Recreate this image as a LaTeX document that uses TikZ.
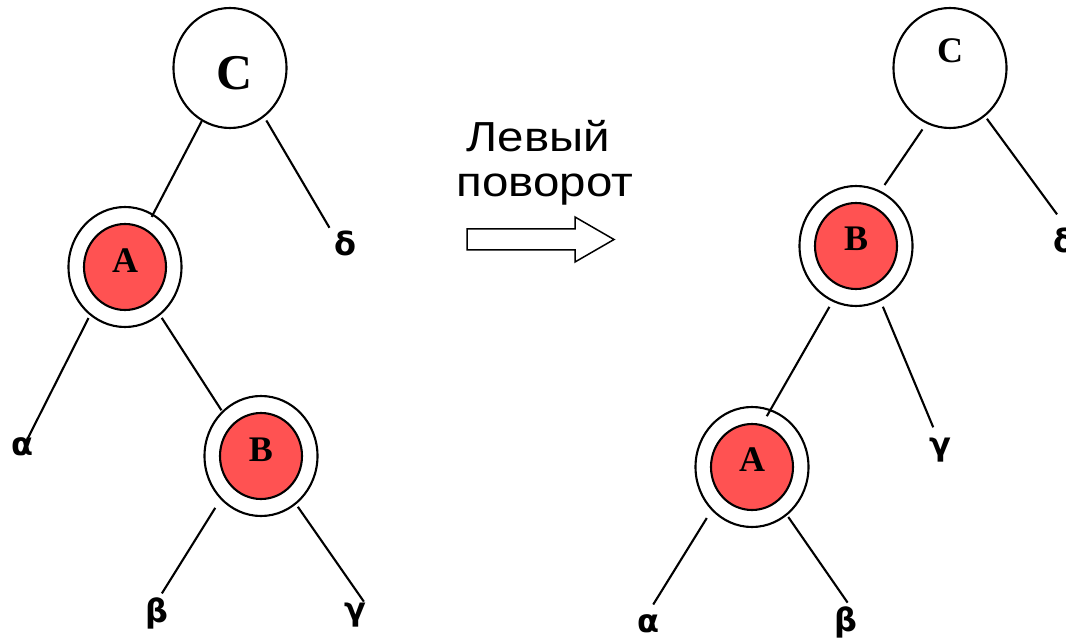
\documentclass[tikz,border=0pt]{standalone}
\usepackage{fontspec}
\setmainfont{Liberation Serif}
\newfontfamily\greekfont{DejaVu Sans}
\newfontfamily\arialfont{Liberation Sans}
\usetikzlibrary{shapes.geometric}
\definecolor{nodered}{HTML}{FF5252}
\tikzset{
  outerc/.style={ellipse, draw, fill=white, minimum width=113pt, minimum height=120pt, inner sep=0pt, line width=2.1pt},
  redc/.style={outerc, path picture={\draw[line width=2.1pt, fill=nodered] (path picture bounding box.center) ellipse [x radius=41pt, y radius=43pt];}},
  leaf/.style={circle, minimum size=40pt, inner sep=0pt, font=\greekfont\bfseries\fontsize{32}{32}\selectfont},
  lettr/.style={font=\bfseries\fontsize{36}{36}\selectfont, inner sep=0pt},
  edge/.style={line width=2.1pt},
  ttl/.style={font=\arialfont\fontsize{42}{42}\selectfont, inner sep=0pt, anchor=base},
}
\begin{document}
\begin{tikzpicture}[x=1pt,y=-1pt]
\fill[white] (0,0) rectangle (1066,639);
\useasboundingbox (0,0) rectangle (1066,639);

% left tree
\node[outerc, label={[lettr, font=\bfseries\fontsize{50}{50}\selectfont, xshift=4.5pt, yshift=-5.5pt]center:C}] (cL) at (230,68) {};
\node[redc, label={[lettr, yshift=6.5pt]center:A}] (aL) at (125,267) {};
\node[redc, label={[lettr, yshift=6.5pt]center:B}] (bL) at (261,456) {};
\node[leaf] (dL) at (345,243.5) {δ};
\node[leaf] (alL) at (22,446.5) {α};
\node[leaf] (beL) at (157,613) {β};
\node[leaf] (gL) at (355,615.5) {γ};

\draw[edge, shorten >=-3.5pt] (cL.242) -- (aL.62);
\draw[edge, shorten <=4pt, shorten >=2pt] (cL.305) -- (dL.136);
\draw[edge, shorten <=3pt, shorten >=-10pt] (aL.234) -- (alL.59);
\draw[edge, shorten <=3pt, shorten >=1pt] (aL.306) -- (bL.131);
\draw[edge, shorten <=10pt] (bL.227) -- (beL.76);
\draw[edge, shorten <=3pt, shorten >=-7pt] (bL.306) -- (gL.76);

% arrow and title
\draw[line width=1.5pt, fill=white] (467,229) -- (575,229) -- (575,217) -- (614,239.5) -- (575,262) -- (575,250) -- (467,250) -- cycle;
\node[ttl] (t1) at (538.5,152) {\scalebox{1.13}[1]{Левый}};
\node[ttl] (t2) at (545,197) {\scalebox{1.13}[1]{поворот}};

% right tree
\node[outerc, label={[lettr, yshift=17.5pt]center:C}] (cR) at (950,68) {};
\node[redc, label={[lettr, yshift=7pt]center:B}] (bR) at (856,246) {};
\node[redc, label={[lettr, yshift=7.5pt]center:A}] (aR) at (752,467) {};
\node[leaf] (dR) at (1064,240) {δ};
\node[leaf] (gR) at (940,450.5) {γ};
\node[leaf] (alR) at (648,624) {α};
\node[leaf] (beR) at (846,622) {β};

\draw[edge, shorten <=7pt, shorten >=7pt] (cR.247) -- (bR.66);
\draw[edge, shorten <=3pt, shorten >=7pt] (cR.306) -- (dR.98);
\draw[edge, shorten <=6pt, shorten >=4pt] (bR.294) -- (gR.105);
\draw[edge, shorten <=6pt, shorten >=-8pt] (bR.247) -- (aR.72);
\draw[edge, shorten <=9pt] (aR.227) -- (alR.75);
\draw[edge, shorten <=2pt, shorten >=-1pt] (aR.306) -- (beR.87);
\end{tikzpicture}
\end{document}
